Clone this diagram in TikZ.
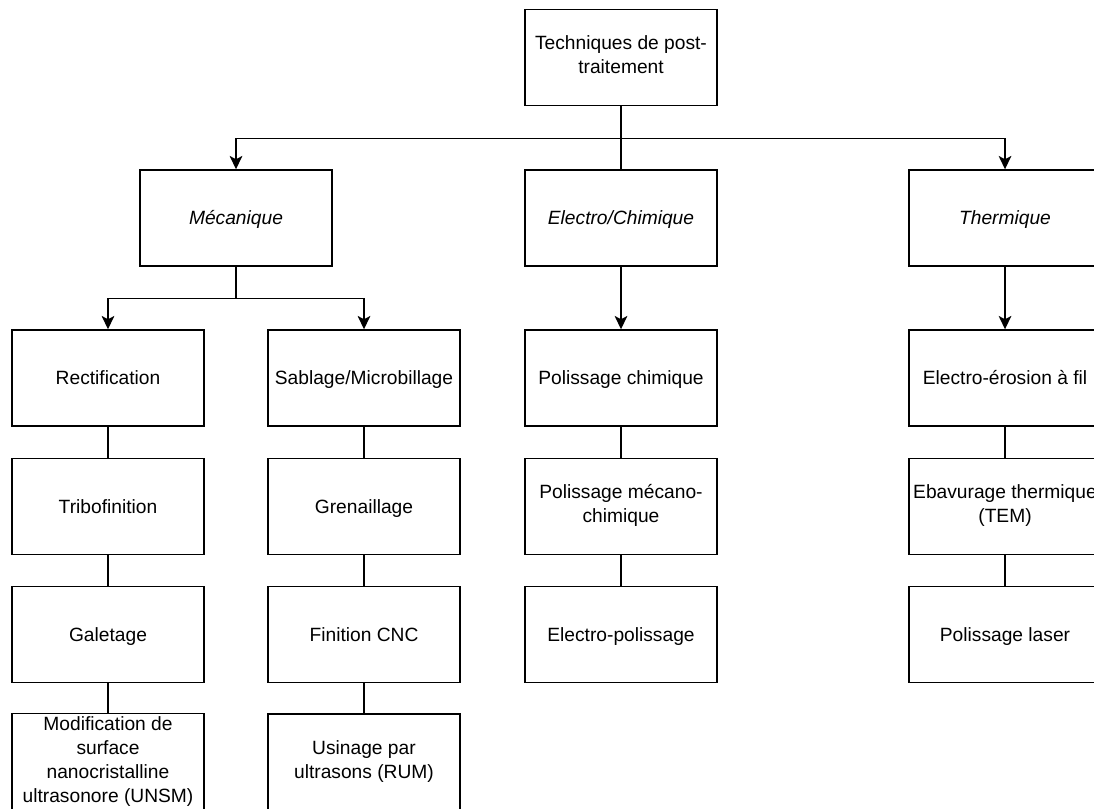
\documentclass[tikz,border=0pt]{standalone}
\usepackage{fontspec}
\setmainfont{Liberation Sans}
\usetikzlibrary{arrows.meta,positioning}
\newcommand{\boxstrut}{\rule[-4pt]{0pt}{18pt}}
\tikzset{
  box/.style={draw,minimum width=144pt,minimum height=72pt,align=center,font=\fontsize{14.4}{18}\selectfont,line width=1.1pt,inner sep=2pt,
    execute at begin node=\boxstrut,execute at end node=\boxstrut},
  catbox/.style={box,font=\fontsize{14.4}{18}\selectfont\itshape},
  arrow/.style={-{Stealth[length=10pt,width=9.5pt,inset=2.5pt]},line width=1.1pt},
  link/.style={line width=1.1pt}
}
\begin{document}
\begin{tikzpicture}[x=0.75pt,y=-0.75pt]
\useasboundingbox (0,0) rectangle (1094,808);
\clip (0,0) rectangle (1094,808);
% Root
\node[box] (root) at (621,57.5) {Techniques de post-\\traitement};
% Categories
\node[catbox] (meca) at (236,218) {Mécanique};
\node[catbox] (chim) at (621,218) {Electro/Chimique};
\node[catbox] (therm) at (1005,218) {Thermique};
% Mecanique, two columns
\node[box] (rect) at (108,378) {Rectification};
\node[box] (tribo) at (108,506.5) {Tribofinition};
\node[box] (gal) at (108,634.5) {Galetage};
\node[box] (unsm) at (108,762) {Modification de\\surface\\nanocristalline\\ultrasonore (UNSM)};
\node[box] (sabl) at (364,378) {Sablage/Microbillage};
\node[box] (gren) at (364,506.5) {Grenaillage};
\node[box] (cnc) at (364,634.5) {Finition CNC};
\node[box] (rum) at (364,762) {Usinage par\\ultrasons (RUM)};
% Electro/Chimique
\node[box] (polchim) at (621,378) {Polissage chimique};
\node[box] (polmec) at (621,506.5) {Polissage mécano-\\chimique};
\node[box] (elpol) at (621,634.5) {Electro-polissage};
% Thermique
\node[box] (elero) at (1005,378) {Electro-érosion à fil};
\node[box] (ebav) at (1005,506.5) {Ebavurage thermique\\(TEM)};
\node[box] (laser) at (1005,634.5) {Polissage laser};
% connectors
\draw[arrow] (root.south) -- ++(0,32.5) -| (meca.north);
\draw[arrow] (root.south) -- ++(0,32.5) -| (therm.north);
\draw[link] (root) -- (chim);
\draw[arrow] (meca.south) -- ++(0,32) -| (rect.north);
\draw[arrow] (meca.south) -- ++(0,32) -| (sabl.north);
\draw[arrow] (chim) -- (polchim);
\draw[arrow] (therm) -- (elero);
\foreach \a/\b in {rect/tribo,tribo/gal,gal/unsm,sabl/gren,gren/cnc,cnc/rum,polchim/polmec,polmec/elpol,elero/ebav,ebav/laser}
  \draw[link] (\a) -- (\b);
\end{tikzpicture}
\end{document}
